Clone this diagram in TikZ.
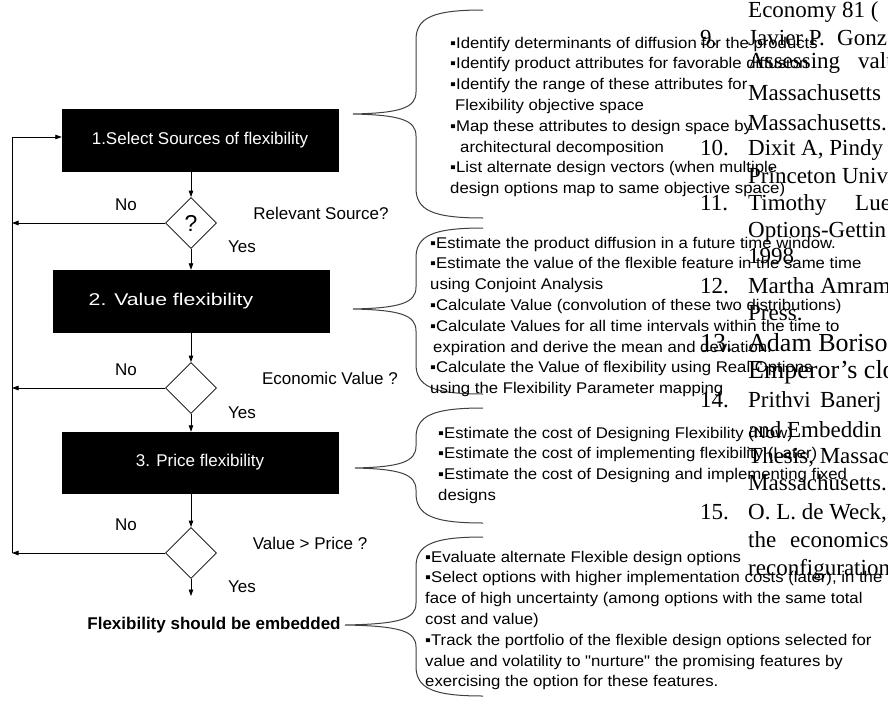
\documentclass[tikz,border=0pt]{standalone}
\usepackage{fontspec}
\setmainfont{Liberation Sans}
\newfontfamily\refserif{Liberation Serif}
\newfontfamily\notefont[FakeStretch=1.08]{Liberation Sans}
\newfontfamily\widelabel[FakeStretch=1.25]{Liberation Sans}
\usetikzlibrary{arrows.meta,shapes.geometric}

% curly brace opening to the right: tip x, top y, tip y, bottom y
\newcommand\flexbrace[4]{%
  \draw[bracepen] (483,#2) .. controls (432,#2) and (416,#2+8) .. (416,#2+30)
    -- (416,#3-22) .. controls (416,#3-6) and (400,#3-1) .. (#1,#3)
    .. controls (400,#3+1) and (416,#3+6) .. (416,#3+22)
    -- (416,#4-30) .. controls (416,#4-8) and (432,#4) .. (483,#4);}

\tikzset{
  flowbox/.style={rectangle, fill=black, draw=black, text=white,
    minimum width=276pt, minimum height=62pt, inner sep=0pt,
    font=\fontsize{17}{20}\selectfont},
  decision/.style={diamond, draw=black, line width=0.8pt, aspect=1,
    minimum width=51pt, minimum height=51pt, inner sep=0pt,
    font=\fontsize{23}{26}\selectfont},
  lbl/.style={inner sep=0pt, font=\fontsize{17}{20}\selectfont},
  arr/.style={line width=0.8pt, -{Triangle[length=6.5pt,width=4.5pt]}},
  link/.style={line width=0.8pt},
  bracepen/.style={line width=1pt, draw=black!75},
  notes/.style={anchor=north west, inner sep=0pt, align=left,
    font=\notefont\fontsize{15.5}{20.8}\selectfont},
  refline/.style={anchor=base west, inner sep=0pt,
    font=\refserif\fontsize{23}{26}\selectfont},
  refbig/.style={anchor=base west, inner sep=0pt,
    font=\refserif\fontsize{26}{30}\selectfont},
}

\begin{document}
\begin{tikzpicture}[x=1pt,y=-1pt]
  \useasboundingbox (0,0) rectangle (888,704);
  \clip (0,0) rectangle (888,704);
  \fill[white] (0,0) rectangle (888,704);

  % process steps
  \node[flowbox] (box1) at (200,140.5) {1.Select Sources of flexibility};
  \node[flowbox] (box2) at (191,301) {\widelabel 2. Value flexibility\hspace*{40pt}};
  \node[flowbox, minimum height=61pt] (box3) at (200,462.5) {3. Price flexibility};

  % decisions
  \node[decision] (d1) at (191,223) {?};
  \node[decision] (d2) at (191,388) {};
  \node[decision] (d3) at (191,553) {};

  \node[lbl, font=\bfseries\fontsize{17}{20}\selectfont] (result) at (214,625)
    {Flexibility should be embedded};
  \coordinate (yesend) at (191,596);
  \coordinate (rail) at (12,0);

  % main flow
  \draw[arr] (d1 |- box1.south) -- (d1.north);
  \draw[arr] (d1.south) -- (box2.north -| d1);
  \draw[arr] (box2.south -| d2) -- (d2.north);
  \draw[arr] (d2.south) -- (box3.north -| d2);
  \draw[arr] (box3.south -| d3) -- (d3.north);
  \draw[arr] (d3.south) -- (yesend);

  % "No" branches back to the start
  \draw[arr] (d1.west) -- (d1.west -| rail);
  \draw[arr] (d2.west) -- (d2.west -| rail);
  \draw[arr] (d3.west) -- (d3.west -| rail);
  \draw[link] (d3.west -| rail) -- (0,137 -| rail);
  \draw[arr] (0,137 -| rail) -- (box1.west |- 0,137);

  % branch labels
  \node[lbl] (no1) at (126,205) {No};
  \node[lbl] (no2) at (126,370) {No};
  \node[lbl] (no3) at (126,525) {No};
  \node[lbl] (yes1) at (242,247) {Yes};
  \node[lbl] (yes2) at (242,413) {Yes};
  \node[lbl] (yes3) at (242,587) {Yes};
  \node[lbl] (q1) at (321,213) {Relevant Source?};
  \node[lbl] (q2) at (330,378) {Economic Value ?};
  \node[lbl] (q3) at (310,543) {Value > Price ?};

  % braces
  \flexbrace{353}{10}{114}{218}
  \flexbrace{353}{228}{309}{394}
  \flexbrace{355}{408}{468}{523}
  \flexbrace{345}{537}{625}{696}

  % notes for each step
  \node[notes] (n1) at (450,33.3) {\strut ▪Identify determinants of diffusion for the products\\
    ▪Identify product attributes for favorable diffusion\\
    ▪Identify the range of these attributes for\\
    \hspace*{5pt}Flexibility objective space\\
    ▪Map these attributes to design space by\\
    \hspace*{10pt}architectural decomposition\\
    ▪List alternate design vectors (when multiple\\
    design options map to same objective space)};
  \node[notes] (n2) at (430,233.3) {\strut ▪Estimate the product diffusion in a future time window.\\
    ▪Estimate the value of the flexible feature in the same time\\
    using Conjoint Analysis\\
    ▪Calculate Value (convolution of these two distributions)\\
    ▪Calculate Values for all time intervals within the time to\\
    \hspace*{3pt}expiration and derive the mean and deviation.\\
    ▪Calculate the Value of flexibility using Real Options\\
    using the Flexibility Parameter mapping};
  \node[notes] (n3) at (438,423.3) {\strut ▪Estimate the cost of Designing Flexibility (Now)\\
    ▪Estimate the cost of implementing flexibility (Later)\\
    ▪Estimate the cost of Designing and implementing fixed\\
    designs};
  \node[notes] (n4) at (425,547.3) {\strut ▪Evaluate alternate Flexible design options\\
    ▪Select options with higher implementation costs (later), in the\\
    face of high uncertainty (among options with the same total\\
    cost and value)\\
    ▪Track the portfolio of the flexible design options selected for\\
    value and volatility to "nurture" the promising features by\\
    exercising the option for these features.};

  % reference list
  \node[refline] (r0) at (748,17) {Economy 81 (};
  \node[refline] (r9n) at (700,45) {9.};
  \node[refline] (r9a) at (748,45) {Javier P.};
  \node[refline] (r9g) at (837,45) {Gonz};
  \node[refline] (r9b) at (748,68) {Assessing};
  \node[refline] (r9c) at (858,68) {valu};
  \node[refline] (r9d) at (748,100) {Massachusetts};
  \node[refline] (r9e) at (748,130) {Massachusetts.};
  \node[refline] (r10n) at (700,155) {10.};
  \node[refline] (r10a) at (748,155) {Dixit A, Pindy};
  \node[refline] (r10b) at (748,183) {Princeton Univ};
  \node[refline] (r11n) at (700,210) {11.};
  \node[refline] (r11a) at (748,210) {Timothy};
  \node[refline] (r11b) at (855,210) {Lueh};
  \node[refline] (r11c) at (748,237) {Options-Gettin};
  \node[refline] (r11d) at (748,263) {1998};
  \node[refline] (r12n) at (700,293) {12.};
  \node[refline] (r12a) at (748,293) {Martha Amram};
  \node[refline] (r12b) at (748,320) {Press.};
  \node[refbig] (r13n) at (700,351) {13.};
  \node[refbig] (r13a) at (748,351) {Adam Boriso};
  \node[refbig] (r13b) at (748,378) {Emperor’s clo};
  \node[refline] (r14n) at (700,407) {14.};
  \node[refline] (r14a) at (748,407) {Prithvi};
  \node[refline] (r14b) at (820,407) {Banerj};
  \node[refline] (r14c) at (748,437) {and Embeddin};
  \node[refline] (r14d) at (748,463) {Thesis, Massac};
  \node[refline] (r14e) at (748,490) {Massachusetts.};
  \node[refline] (r15n) at (700,519) {15.};
  \node[refline] (r15a) at (748,519) {O. L. de Weck,};
  \node[refline] (r15b) at (748,547) {the};
  \node[refline] (r15c) at (790,547) {economics};
  \node[refline] (r15d) at (748,575) {reconfiguration};
\end{tikzpicture}
\end{document}
